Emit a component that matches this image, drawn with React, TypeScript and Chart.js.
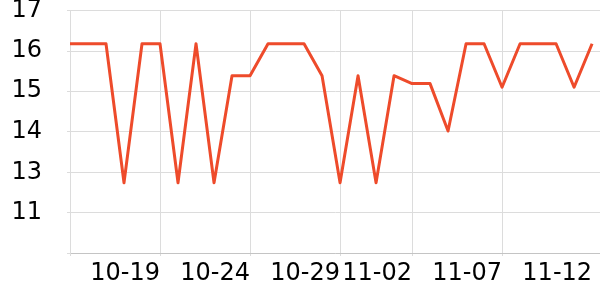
import React, { useEffect, useRef } from 'react';
import { Chart, registerables } from 'chart.js';

Chart.register(...registerables);

const dates = [
  '10-14', '10-15', '10-16', '10-17', '10-18', '10-19', '10-20', '10-21', '10-22', '10-23',
  '10-24', '10-25', '10-26', '10-27', '10-28', '10-29', '10-30', '10-31', '11-01', '11-02',
  '11-03', '11-04', '11-05', '11-06', '11-07', '11-08', '11-09', '11-10', '11-11', '11-12',
];

const values = [
  16.08, 16.08, 16.08, 12.24, 16.08, 16.08, 12.24, 16.08, 12.24, 15.2,
  15.2, 16.08, 16.08, 16.08, 15.2, 12.24, 15.2, 12.24, 15.2, 14.98,
  14.98, 13.67, 16.08, 16.08, 14.88, 16.08, 16.08, 16.08, 14.88, 16.08,
];

const xTickLabels = ['10-19', '10-24', '10-29', '11-02', '11-07', '11-12'];

const yTickValues = [10.3, 11.42, 12.53, 13.65, 14.77, 15.88, 17];
const yTickLabels = ['', '11', '13', '14', '15', '16', '17'];

const FONT = { family: 'DejaVu Sans', size: 24 };

export default function App() {
  const canvasRef = useRef<HTMLCanvasElement | null>(null);

  useEffect(() => {
    document.body.style.margin = '0';
    const canvas = canvasRef.current;
    if (!canvas) return;
    const lastIdx = dates.length - 1;
    const chart = new Chart(canvas, {
      type: 'line',
      data: {
        datasets: [
          {
            data: values.map((y, i) => ({ x: i, y })),
            borderColor: '#ee4b2b',
            borderWidth: 3,
            borderJoinStyle: 'round',
            pointRadius: 0,
            tension: 0,
            fill: false,
          },
        ],
      },
      options: {
        responsive: false,
        animation: false,
        layout: { padding: { top: 10.5, left: 0, right: 0, bottom: 0 } },
        plugins: { legend: { display: false }, tooltip: { enabled: false } },
        scales: {
          x: {
            type: 'linear',
            min: 0,
            max: 29.44,
            afterBuildTicks: (s: any) => {
              s.ticks = [0, ...xTickLabels.map((l) => dates.indexOf(l))].map((v) => ({ value: v }));
            },
            ticks: {
              autoSkip: false,
              maxRotation: 0,
              align: 'end',
              padding: 3,
              color: '#000',
              font: FONT,
              callback: (v: any) => (xTickLabels.includes(dates[v]) ? dates[v] : ''),
            },
            grid: {
              color: (ctx: any) => (ctx.tick && ctx.tick.value === lastIdx ? 'rgba(0,0,0,0)' : '#dcdcdc'),
              tickLength: 3,
            },
            border: { color: '#c4c4c4' },
            afterFit: (s: any) => {
              s.height = 47;
              s.paddingLeft = 0;
              s.paddingRight = 0;
            },
          },
          y: {
            type: 'linear',
            min: 10.3,
            max: 17,
            afterBuildTicks: (s: any) => {
              s.ticks = yTickValues.map((v) => ({ value: v }));
            },
            ticks: {
              padding: 25,
              color: '#000',
              font: FONT,
              callback: (_v: any, i: number) => yTickLabels[i],
            },
            grid: { color: '#dcdcdc', tickLength: 3 },
            border: { color: '#dcdcdc' },
            afterFit: (s: any) => {
              s.width = 70;
              s.paddingTop = 0;
              s.paddingBottom = 0;
            },
          },
        },
      } as any,
    });
    return () => chart.destroy();
  }, []);

  return (
    <div style={{ width: 600, height: 300 }}>
      <canvas ref={canvasRef} width={600} height={300} />
    </div>
  );
}
